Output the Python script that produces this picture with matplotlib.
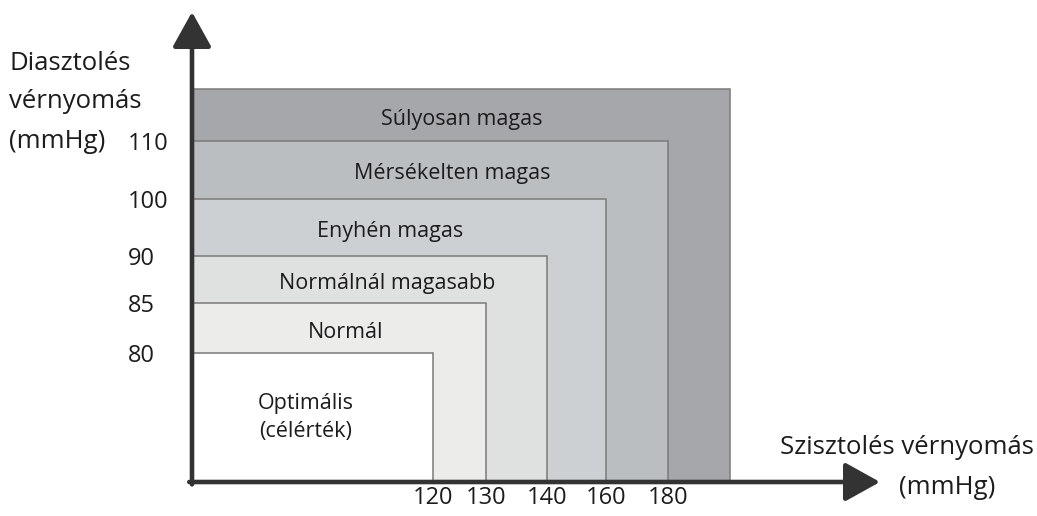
import numpy as np
import matplotlib
matplotlib.use("Agg")
import matplotlib.pyplot as plt
from matplotlib.transforms import offset_copy

# zones, from the innermost rectangle to the outermost
categories = ["Optimális\n(célérték)", "Normál", "Normálnál magasabb",
              "Enyhén magas", "Mérsékelten magas", "Súlyosan magas"]
systolic_upper = [120, 130, 140, 160, 180, 200]
diastolic_upper = [80, 85, 90, 100, 110, 120]
sys_ticks = [120, 130, 140, 160, 180]
dia_ticks = [80, 85, 90, 100, 110]
colors = ["#ffffff", "#ececeb", "#dfe0e0", "#cdd0d2", "#bbbec1", "#a6a7aa"]

# the picture's axes are not linear: map values to pixel distances from the origin
X_KNOTS = [0, 120, 130, 140, 160, 180, 200, 240]
X_PX = [0, 241, 294, 355, 414, 476, 538, 688]
Y_KNOTS = [0, 80, 85, 90, 100, 110, 120, 140]
Y_PX = [0, 129, 179, 226, 283, 341, 393, 470]
LABEL_PX = [114, 154, 195, 198, 260, 270]

FONT = "Open Sans"
FS = 15.5
FS_TICK = 17
FS_TITLE = 18.5
TXT = "#1c1c1c"


def fwd_x(v):
    return np.interp(v, X_KNOTS, X_PX)


def inv_x(p):
    return np.interp(p, X_PX, X_KNOTS)


def fwd_y(v):
    return np.interp(v, Y_KNOTS, Y_PX)


def inv_y(p):
    return np.interp(p, Y_PX, Y_KNOTS)


def main():
    plt.rcParams["font.family"] = [FONT, "DejaVu Sans"]
    W, H = 1037, 516
    fig = plt.figure(figsize=(W / 100, H / 100), dpi=100)
    ax = fig.add_axes([192 / W, 34 / H, 688 / W, 470 / H])
    ax.set_xscale("function", functions=(fwd_x, inv_x))
    ax.set_yscale("function", functions=(fwd_y, inv_y))
    ax.set_xlim(0, X_KNOTS[-1])
    ax.set_ylim(0, Y_KNOTS[-1])

    # outermost first so the smaller zones sit on top
    for i in reversed(range(len(categories))):
        ax.bar(0, diastolic_upper[i], width=systolic_upper[i], align="edge",
               color=colors[i], edgecolor="#7a7a7a", linewidth=1.1, zorder=2 + (5 - i))

    lbl_tr = offset_copy(ax.transData, fig=fig, y=-4, units="dots")
    for i, name in enumerate(categories):
        lo = fwd_y(diastolic_upper[i - 1]) if i > 0 else 0
        ymid = inv_y((lo + fwd_y(diastolic_upper[i])) / 2)
        ax.text(inv_x(LABEL_PX[i]), ymid, name, ha="center", va="center",
                fontsize=FS, color=TXT, zorder=20, linespacing=1.45,
                transform=lbl_tr if i > 0 else ax.transData)

    for s in ax.spines.values():
        s.set_visible(False)
    ax.set_xticks(sys_ticks)
    ax.set_xticklabels([str(v) for v in sys_ticks])
    ax.set_yticks(dia_ticks)
    ax.set_yticklabels([str(v) for v in dia_ticks])
    ax.tick_params(length=0, labelsize=FS_TICK, labelcolor=TXT)
    ax.tick_params(axis="x", pad=3)
    # y tick labels are left-aligned in the reference
    ax.tick_params(axis="y", pad=46)
    for t in ax.get_yticklabels():
        t.set_horizontalalignment("left")

    arrow = dict(arrowstyle="-|>,head_length=0.45,head_width=0.25", lw=3.3,
                 color="#333333", mutation_scale=48, shrinkA=0, shrinkB=0)
    ax.annotate("", xy=(0, 1), xytext=(0, -0.005), xycoords="axes fraction",
                arrowprops=arrow, zorder=30)
    ax.annotate("", xy=(1, 0), xytext=(-0.004, 0), xycoords="axes fraction",
                arrowprops=arrow, zorder=30)

    fig.text(9 / W, 1 - 63 / H, "Diasztolés", fontsize=FS_TITLE, color=TXT, va="center")
    fig.text(9 / W, 1 - 102 / H, "vérnyomás", fontsize=FS_TITLE, color=TXT, va="center")
    fig.text(9 / W, 1 - 141 / H, "(mmHg)", fontsize=FS_TITLE, color=TXT, va="center")
    fig.text(1034 / W, 1 - 447 / H, "Szisztolés vérnyomás", fontsize=FS_TITLE, color=TXT,
             va="center", ha="right")
    fig.text(947 / W, 1 - 487 / H, "(mmHg)", fontsize=FS_TITLE, color=TXT,
             va="center", ha="center")

    fig.savefig("out.png", dpi=100, facecolor="white")


if __name__ == "__main__":
    main()
